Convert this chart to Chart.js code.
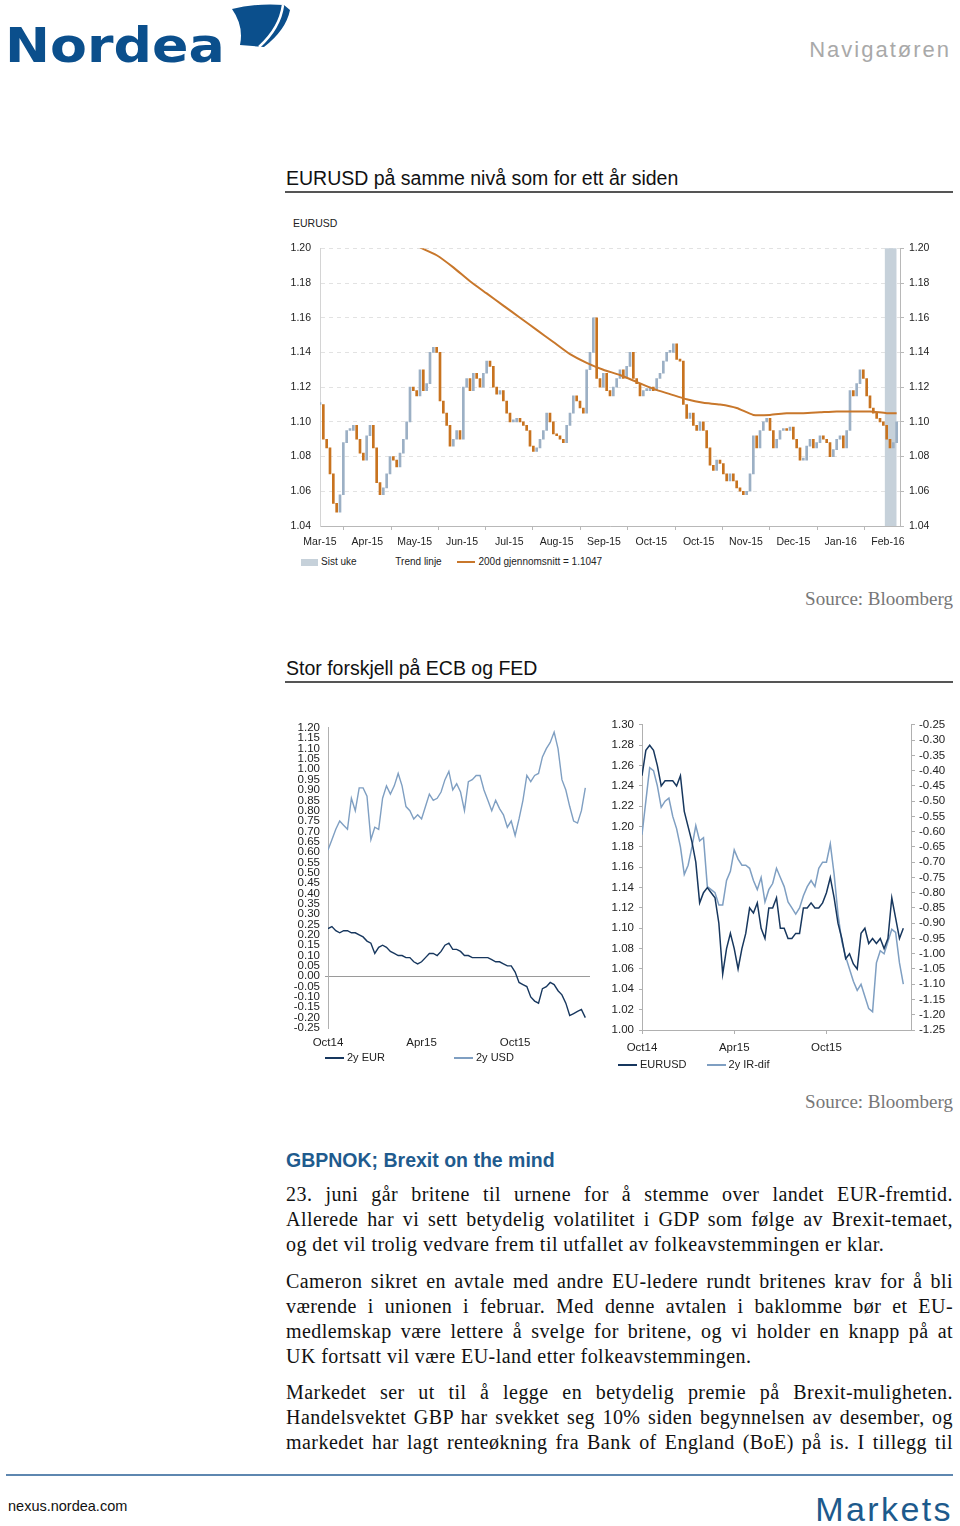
<!DOCTYPE html>
<html>
<head>
<meta charset="utf-8">
<script src="https://cdn.jsdelivr.net/npm/chart.js@4.4.0/dist/chart.umd.min.js"></script>
<style>
  body { margin: 0; width: 960px; height: 1526px; background: #fff; position: relative; overflow: hidden; font-family: 'Liberation Sans', Arial, sans-serif; color: #111; }
  .abs { position: absolute; }
  .h2 { font-size: 19.5px; line-height: 22px; color: #111; }
  .rule { position: absolute; left: 285px; width: 668px; height: 2px; background: #555; }
  .src { font-family: 'Liberation Serif', 'Times New Roman', serif; font-size: 19px; color: #777; right: 7px; line-height: 22px; }
  .txt { position: absolute; left: 286px; width: 667px; font-family: 'Liberation Serif', 'Times New Roman', serif; font-size: 20px; line-height: 25px; color: #111; letter-spacing: 0.45px; }
  .txt div { text-align: justify; text-align-last: justify; white-space: nowrap; }
  .txt div.last { text-align-last: left; }
  .leg { font-size: 10px; line-height: 12px; color: #222; }
  .sw { display: inline-block; vertical-align: middle; }
  canvas { position: absolute; }
</style>
</head>
<body>

<!-- header -->
<div class="abs" style="left:5px; top:21px; font-family:'DejaVu Sans', sans-serif; font-weight:bold; font-size:48px; line-height:48px; color:#0b4f8c; transform:scaleX(1.12); transform-origin:left top;">Nordea</div>
<svg class="abs" style="left:228px; top:0px;" width="64" height="56">
  <path d="M4,9 Q28,3 56,5 L62,10 Q58,30 36,47 L12,45 Q16,26 4,9 Z" fill="#0b4f8c"/>
  <path d="M55,5 Q52,28 31,47" stroke="#fff" stroke-width="2.5" fill="none"/>
</svg>
<div class="abs" style="right:9px; top:37px; font-size:22px; line-height:26px; color:#a9a9a9; letter-spacing:2px;">Navigatøren</div>

<!-- section 1 -->
<div class="abs h2" style="left:286px; top:167px;">EURUSD på samme nivå som for ett år siden</div>
<div class="rule" style="top:191px;"></div>
<div class="abs" style="left:293px; top:216px; font-size:10.5px; line-height:14px; color:#222;">EURUSD</div>
<canvas id="fxChart" width="665" height="319" style="left:285px; top:233px;"></canvas>
<div class="abs leg" style="left:301px; top:556px;">
  <span class="sw" style="width:17px; height:7px; background:#c6d1da; margin-right:3px;"></span>Sist uke
  <span style="margin-left:36px;">Trend linje</span>
  <span class="sw" style="width:18px; height:2px; background:#c8772b; margin-left:13px; margin-right:3px;"></span>200d gjennomsnitt = 1.1047
</div>
<div class="abs src" style="top:588px;">Source: Bloomberg</div>

<!-- section 2 -->
<div class="abs h2" style="left:286px; top:657px;">Stor forskjell på ECB og FED</div>
<div class="rule" style="top:681px;"></div>
<canvas id="rateChart" width="310" height="337" style="left:285px; top:716px;"></canvas>
<canvas id="difChart" width="355" height="344" style="left:600px; top:713px;"></canvas>
<div class="abs leg" style="left:325px; top:1051px; font-size:11px;">
  <span class="sw" style="width:19px; height:2px; background:#17375e; margin-right:3px;"></span>2y EUR
  <span class="sw" style="width:19px; height:2px; background:#7f9fc2; margin-left:66px; margin-right:3px;"></span>2y USD
</div>
<div class="abs leg" style="left:618px; top:1058px; font-size:11px;">
  <span class="sw" style="width:19px; height:2px; background:#17375e; margin-right:3px;"></span>EURUSD
  <span class="sw" style="width:19px; height:2px; background:#7f9fc2; margin-left:17px; margin-right:3px;"></span>2y IR-dif
</div>
<div class="abs src" style="top:1091px;">Source: Bloomberg</div>

<!-- section 3 -->
<div class="abs" style="left:286px; top:1149px; font-size:19.5px; line-height:22px; font-weight:bold; color:#1f5b8e;">GBPNOK; Brexit on the mind</div>
<div class="txt" style="top:1182px;">
  <div>23. juni går britene til urnene for å stemme over landet EUR-fremtid.</div>
  <div>Allerede har vi sett betydelig volatilitet i GDP som følge av Brexit-temaet,</div>
  <div class="last">og det vil trolig vedvare frem til utfallet av folkeavstemmingen er klar.</div>
</div>
<div class="txt" style="top:1269px;">
  <div>Cameron sikret en avtale med andre EU-ledere rundt britenes krav for å bli</div>
  <div>værende i unionen i februar. Med denne avtalen i baklomme bør et EU-</div>
  <div>medlemskap være lettere å svelge for britene, og vi holder en knapp på at</div>
  <div class="last">UK fortsatt vil være EU-land etter folkeavstemmingen.</div>
</div>
<div class="txt" style="top:1380px;">
  <div>Markedet ser ut til å legge en betydelig premie på Brexit-muligheten.</div>
  <div>Handelsvektet GBP har svekket seg 10% siden begynnelsen av desember, og</div>
  <div>markedet har lagt renteøkning fra Bank of England (BoE) på is. I tillegg til</div>
</div>

<!-- footer -->
<div class="abs" style="left:6px; top:1474px; width:947px; height:2px; background:#5e87b0;"></div>
<div class="abs" style="left:8px; top:1497px; font-size:14.5px; line-height:18px; color:#111;">nexus.nordea.com</div>
<div class="abs" style="right:7px; top:1489px; font-size:34px; line-height:40px; color:#1d5a8c; letter-spacing:2.4px;">Markets</div>

<script>
Chart.defaults.font.family = "'Liberation Sans', Arial, sans-serif";
Chart.defaults.color = '#222';

// ---- EURUSD daily (sampled) ----
const monthLabels = ['Mar-15', 'Apr-15', 'May-15', 'Jun-15', 'Jul-15', 'Aug-15', 'Sep-15', 'Oct-15', 'Oct-15', 'Nov-15', 'Dec-15', 'Jan-16', 'Feb-16'];
const samplesPerMonth = 14.2;
const eurusdClose = [
  1.110, 1.090, 1.085, 1.070, 1.053, 1.048, 1.058, 1.088, 1.095, 1.095,
  1.098, 1.090, 1.082, 1.078, 1.092, 1.098, 1.085, 1.065, 1.058, 1.062,
  1.070, 1.080, 1.078, 1.074, 1.082, 1.090, 1.100, 1.120, 1.118, 1.115,
  1.130, 1.118, 1.122, 1.140, 1.143, 1.140, 1.112, 1.105, 1.098, 1.086,
  1.090, 1.095, 1.090, 1.120, 1.125, 1.118, 1.128, 1.125, 1.120, 1.128,
  1.135, 1.132, 1.120, 1.116, 1.118, 1.112, 1.105, 1.100, 1.100, 1.102,
  1.100, 1.098, 1.095, 1.086, 1.083, 1.085, 1.090, 1.095, 1.105, 1.100,
  1.093, 1.092, 1.090, 1.088, 1.098, 1.105, 1.115, 1.112, 1.108, 1.105,
  1.130, 1.140, 1.160, 1.125, 1.120, 1.128, 1.118, 1.115, 1.120, 1.125,
  1.130, 1.125, 1.132, 1.140, 1.125, 1.122, 1.115, 1.118, 1.118, 1.120,
  1.118, 1.125, 1.128, 1.135, 1.140, 1.140, 1.145, 1.136, 1.135, 1.110,
  1.102, 1.105, 1.098, 1.095, 1.100, 1.095, 1.085, 1.075, 1.072, 1.078,
  1.076, 1.070, 1.066, 1.070, 1.066, 1.062, 1.060, 1.058, 1.060, 1.070,
  1.092, 1.085, 1.095, 1.100, 1.102, 1.095, 1.085, 1.090, 1.095, 1.096,
  1.095, 1.097, 1.090, 1.085, 1.078, 1.078, 1.086, 1.090, 1.085, 1.088,
  1.092, 1.090, 1.088, 1.080, 1.084, 1.090, 1.092, 1.085, 1.095, 1.118,
  1.115, 1.122, 1.130, 1.125, 1.115, 1.108, 1.105, 1.102, 1.100, 1.098,
  1.090, 1.085, 1.088, 1.100
];
const maIndex = [30, 35, 40, 45, 50, 55, 60, 65, 70, 75, 80, 85, 90, 95, 100, 105, 110, 115, 120, 125, 130, 135, 140, 145, 150, 155, 160, 165, 170, 173];
const maValues = [1.2005, 1.196, 1.189, 1.181, 1.174, 1.167, 1.160, 1.153, 1.146, 1.139, 1.134, 1.130, 1.127, 1.123, 1.119, 1.116, 1.113, 1.111, 1.110, 1.108, 1.104, 1.104, 1.105, 1.105, 1.1055, 1.106, 1.106, 1.106, 1.105, 1.105];
const lastWeekCenter = 171.2;
const fxTicks = [1.04, 1.06, 1.08, 1.10, 1.12, 1.14, 1.16, 1.18, 1.20];

const upColor = '#9cb0c5';
const downColor = '#c8731f';

const moveBars = eurusdClose.map((c, i) => {
    const prev = i === 0 ? c : eurusdClose[i - 1];
    return { x: i, y: [Math.min(prev, c), Math.max(prev, c)] };
});
const moveColors = eurusdClose.map((c, i) => (i > 0 && c < eurusdClose[i - 1]) ? downColor : upColor);

new Chart(document.getElementById('fxChart'), {
    type: 'bar',
    data: {
        datasets: [{
            type: 'line',
            data: maIndex.map((x, i) => ({ x: x, y: maValues[i] })),
            borderColor: '#c8772b',
            borderWidth: 2,
            pointRadius: 0,
            tension: 0.2,
            order: 1
        }, {
            data: moveBars,
            backgroundColor: moveColors,
            barThickness: 2,
            minBarLength: 2,
            grouped: false,
            order: 2
        }, {
            data: [{ x: lastWeekCenter, y: [1.04, 1.20] }],
            backgroundColor: '#c6d1da',
            barThickness: 11,
            grouped: false,
            order: 3
        }]
    },
    options: {
        responsive: false,
        animation: false,
        layout: { padding: { top: 10, left: 0, right: 0, bottom: 0 } },
        plugins: { legend: { display: false }, tooltip: { enabled: false } },
        scales: {
            x: {
                type: 'linear',
                offset: false,
                min: 0,
                max: 174,
                afterBuildTicks: s => { s.ticks = monthLabels.map((l, i) => ({ value: i * samplesPerMonth })); },
                afterFit: s => { s.height = 26; },
                ticks: { callback: (v, i) => monthLabels[i], font: { size: 10.5 }, padding: 6, maxRotation: 0, autoSkip: false },
                grid: { drawOnChartArea: false, tickLength: 4, color: '#b8b8b8' },
                border: { color: '#b8b8b8' }
            },
            y: {
                position: 'left',
                min: 1.04,
                max: 1.20,
                afterBuildTicks: s => { s.ticks = fxTicks.map(v => ({ value: v })); },
                afterFit: s => { s.width = 35; },
                ticks: { callback: v => v.toFixed(2), font: { size: 10.5 }, padding: 9 },
                grid: { color: '#e2e2e2', drawTicks: false },
                border: { color: '#d4d4d4', dash: [4, 4] }
            },
            y2: {
                position: 'right',
                min: 1.04,
                max: 1.20,
                afterBuildTicks: s => { s.ticks = fxTicks.map(v => ({ value: v })); },
                afterFit: s => { s.width = 50; },
                ticks: { callback: v => v.toFixed(2), font: { size: 10.5 }, padding: 5 },
                grid: { drawOnChartArea: false, tickLength: 4, color: '#b8b8b8' },
                border: { color: '#b8b8b8' }
            }
        }
    }
});

// ---- 2y rates (step 0.25 month, from Oct14) ----
const rateStep = 0.25;
const eur2y = [
  0.23, 0.24, 0.22, 0.21, 0.22, 0.22, 0.21, 0.21, 0.20, 0.19,
  0.17, 0.16, 0.11, 0.14, 0.15, 0.14, 0.12, 0.11, 0.10, 0.10,
  0.09, 0.09, 0.07, 0.06, 0.07, 0.09, 0.11, 0.11, 0.10, 0.12,
  0.15, 0.16, 0.13, 0.13, 0.12, 0.10, 0.10, 0.09, 0.09, 0.09,
  0.09, 0.09, 0.08, 0.07, 0.07, 0.06, 0.05, 0.05, 0.02, -0.03,
  -0.04, -0.05, -0.10, -0.12, -0.13, -0.06, -0.05, -0.03, -0.04, -0.07,
  -0.09, -0.13, -0.19, -0.18, -0.17, -0.16, -0.20
];
const usd2y = [
  0.61, 0.66, 0.71, 0.75, 0.73, 0.71, 0.86, 0.80, 0.91, 0.91,
  0.87, 0.66, 0.72, 0.71, 0.86, 0.92, 0.88, 0.92, 0.98, 0.92,
  0.82, 0.80, 0.76, 0.78, 0.76, 0.82, 0.88, 0.85, 0.86, 0.89,
  0.95, 0.99, 0.90, 0.93, 0.89, 0.80, 0.94, 0.95, 0.97, 0.97,
  0.90, 0.85, 0.80, 0.85, 0.81, 0.78, 0.72, 0.75, 0.68, 0.76,
  0.85, 0.97, 0.94, 0.97, 0.98, 1.06, 1.10, 1.13, 1.18, 1.10,
  0.95, 0.90, 0.82, 0.75, 0.74, 0.80, 0.91
];
const periodLabels = ['Oct14', 'Apr15', 'Oct15'];
const periodPos = [0, 6, 12];

const fmt2 = v => (Math.abs(v) < 1e-9 ? 0 : v).toFixed(2);
const navy = '#17375e';
const steel = '#7f9fc2';

new Chart(document.getElementById('rateChart'), {
    type: 'line',
    data: {
        datasets: [{
            data: eur2y.map((v, i) => ({ x: i * rateStep, y: v })),
            borderColor: navy, borderWidth: 1.4, pointRadius: 0
        }, {
            data: usd2y.map((v, i) => ({ x: i * rateStep, y: v })),
            borderColor: steel, borderWidth: 1.4, pointRadius: 0
        }]
    },
    options: {
        responsive: false,
        animation: false,
        layout: { padding: { top: 10, right: 5, left: 0, bottom: 0 } },
        plugins: { legend: { display: false }, tooltip: { enabled: false } },
        scales: {
            x: {
                type: 'linear', min: 0, max: 16.8,
                afterBuildTicks: s => { s.ticks = periodPos.map(v => ({ value: v })); },
                afterFit: s => { s.height = 25; },
                ticks: { callback: (v, i) => periodLabels[i], font: { size: 11.5 }, padding: 0, maxRotation: 0 },
                grid: { display: false },
                border: { display: false }
            },
            y: {
                min: -0.25, max: 1.20,
                ticks: { stepSize: 0.05, autoSkip: false, callback: fmt2, font: { size: 11.5 }, padding: 5 },
                afterFit: s => { s.width = 43; },
                grid: { tickLength: 3, color: c => (c.tick && Math.abs(c.tick.value) < 1e-9) ? '#9a9a9a' : 'rgba(0,0,0,0)' },
                border: { color: '#b0b0b0' }
            }
        }
    }
});

// ---- EURUSD vs 2y IR differential ----
const eurusdMonthly = [
  1.250, 1.275, 1.280, 1.275, 1.260, 1.240, 1.245, 1.245, 1.245, 1.240,
  1.250, 1.215, 1.200, 1.185, 1.165, 1.125, 1.135, 1.140, 1.135, 1.130,
  1.105, 1.055, 1.080, 1.095, 1.080, 1.060, 1.080, 1.095, 1.120, 1.115,
  1.125, 1.100, 1.090, 1.120, 1.120, 1.130, 1.100, 1.100, 1.090, 1.090,
  1.095, 1.095, 1.120, 1.120, 1.125, 1.120, 1.120, 1.125, 1.135, 1.150,
  1.130, 1.105, 1.090, 1.070, 1.075, 1.065, 1.060, 1.095, 1.100, 1.085,
  1.090, 1.085, 1.090, 1.080, 1.090, 1.130, 1.110, 1.090, 1.100
];
const irDif = [
  -0.61, -0.50, -0.39, -0.40, -0.45, -0.52, -0.50, -0.49, -0.55, -0.59,
  -0.65, -0.74, -0.71, -0.65, -0.58, -0.63, -0.62, -0.78, -0.79, -0.80,
  -0.84, -0.84, -0.76, -0.73, -0.66, -0.69, -0.71, -0.71, -0.72, -0.76,
  -0.79, -0.75, -0.83, -0.79, -0.77, -0.72, -0.75, -0.78, -0.83, -0.85,
  -0.87, -0.85, -0.81, -0.78, -0.76, -0.78, -0.72, -0.70, -0.70, -0.64,
  -0.74, -0.87, -0.96, -1.01, -1.05, -1.09, -1.12, -1.10, -1.14, -1.18,
  -1.19, -1.03, -0.99, -1.00, -0.96, -0.92, -0.93, -1.03, -1.10
];

new Chart(document.getElementById('difChart'), {
    type: 'line',
    data: {
        datasets: [{
            data: eurusdMonthly.map((v, i) => ({ x: i * rateStep, y: v })),
            borderColor: navy, borderWidth: 1.5, pointRadius: 0, yAxisID: 'y'
        }, {
            data: irDif.map((v, i) => ({ x: i * rateStep, y: v })),
            borderColor: steel, borderWidth: 1.5, pointRadius: 0, yAxisID: 'y2'
        }]
    },
    options: {
        responsive: false,
        animation: false,
        layout: { padding: { top: 10, right: 0, left: 0, bottom: 0 } },
        plugins: { legend: { display: false }, tooltip: { enabled: false } },
        scales: {
            x: {
                type: 'linear', min: 0, max: 17.5,
                afterBuildTicks: s => { s.ticks = periodPos.map(v => ({ value: v })); },
                afterFit: s => { s.height = 27; },
                ticks: { callback: (v, i) => periodLabels[i], font: { size: 11.5 }, padding: 7, maxRotation: 0 },
                grid: { drawOnChartArea: false, tickLength: 4, color: '#b0b0b0' },
                border: { color: '#b0b0b0' }
            },
            y: {
                position: 'left', min: 1.00, max: 1.30,
                ticks: { stepSize: 0.02, autoSkip: false, callback: fmt2, font: { size: 11.5 }, padding: 5 },
                afterFit: s => { s.width = 42; },
                grid: { drawOnChartArea: false, tickLength: 3, color: '#b0b0b0' },
                border: { color: '#b0b0b0' }
            },
            y2: {
                position: 'right', min: -1.25, max: -0.25,
                ticks: { stepSize: 0.05, autoSkip: false, callback: fmt2, font: { size: 11.5 }, padding: 4 },
                afterFit: s => { s.width = 44; },
                grid: { drawOnChartArea: false, tickLength: 4, color: '#b0b0b0' },
                border: { color: '#b0b0b0' }
            }
        }
    }
});
</script>
</body>
</html>
